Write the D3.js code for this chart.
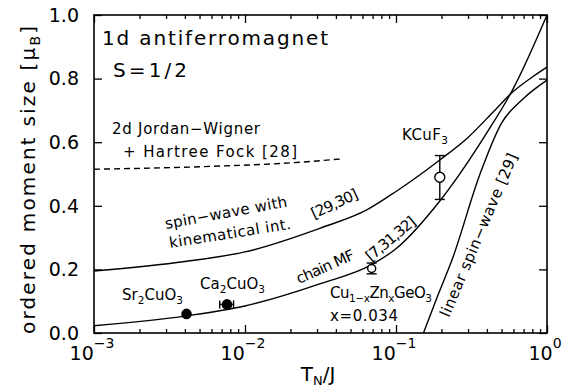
<!DOCTYPE html>
<html>
<head>
<meta charset="utf-8">
<script src="https://cdn.jsdelivr.net/npm/d3@7"></script>
<style>
  body { margin: 0; background: #fff; }
  svg { font-family: "DejaVu Sans", sans-serif; }
</style>
</head>
<body>
<div id="chart"></div>
<script>
// ordered moment vs T_N/J for a 1d S=1/2 antiferromagnet

// curves: [T_N/J, moment]
const spinWaveKin = [
  [0.001, 0.195], [0.004, 0.225], [0.01, 0.255], [0.0316, 0.33],
  [0.064, 0.387], [0.1, 0.445], [0.195, 0.544], [0.3, 0.615],
  [0.45, 0.7], [0.6, 0.76], [0.8, 0.805], [1.0, 0.836]
];
const chainMF = [
  [0.001, 0.023], [0.0041, 0.054], [0.01, 0.085], [0.0316, 0.155],
  [0.069, 0.215], [0.1, 0.265], [0.195, 0.415], [0.4, 0.63],
  [0.6, 0.77], [1.0, 1.0]
];
const linearSW = [
  [0.152, 0.0], [0.19, 0.12], [0.235, 0.23], [0.36, 0.5],
  [0.5, 0.66], [0.69, 0.735], [1.0, 0.795]
];
const jordanWigner = [
  [0.001, 0.515], [0.006, 0.524], [0.02, 0.535], [0.045, 0.548]
];

// measured points
const filledPts = [
  { name: "Sr2CuO3", x: 0.0041, y: 0.06 },
  { name: "Ca2CuO3", x: 0.0076, y: 0.09, xlo: 0.0068, xhi: 0.0084 }
];
const openPts = [
  { name: "CuZnGeO3", x: 0.069, y: 0.203, ylo: 0.186, yhi: 0.22, r: 4 },
  { name: "KCuF3", x: 0.195, y: 0.49, ylo: 0.42, yhi: 0.558, r: 5 }
];

const xMajor = [1e-3, 1e-2, 1e-1, 1];
const xMajorExp = ["\u22123", "\u22122", "\u22121", "0"];
const yMajor = [0, 0.2, 0.4, 0.6, 0.8, 1.0];

const width = 570, height = 388;
const mLeft = 94, mRight = 547, mTop = 15, mBottom = 333;

const x = d3.scaleLog().domain([1e-3, 1]).range([mLeft, mRight]);
const y = d3.scaleLinear().domain([0, 1]).range([mBottom, mTop]);

const svg = d3.select("#chart").append("svg")
  .attr("width", width).attr("height", height);

// axes with inward ticks
const minor = x.ticks().filter((v) => !xMajor.some((m) => Math.abs(m - v) / m < 1e-6));
const axisStyle = (g) => {
  g.select(".domain").remove();
  g.selectAll("line").attr("stroke", "#000").attr("stroke-width", 1.3);
  g.selectAll("text").remove();
};
svg.append("g").attr("transform", `translate(0,${mBottom})`)
  .call(d3.axisBottom(x).tickValues(xMajor).tickSize(-8)).call(axisStyle);
svg.append("g").attr("transform", `translate(0,${mBottom})`)
  .call(d3.axisBottom(x).tickValues(minor).tickSize(-4)).call(axisStyle);
svg.append("g").attr("transform", `translate(0,${mTop})`)
  .call(d3.axisTop(x).tickValues(xMajor).tickSize(-8)).call(axisStyle);
svg.append("g").attr("transform", `translate(0,${mTop})`)
  .call(d3.axisTop(x).tickValues(minor).tickSize(-4)).call(axisStyle);
svg.append("g").attr("transform", `translate(${mLeft},0)`)
  .call(d3.axisLeft(y).tickValues(yMajor).tickSize(-8)).call(axisStyle);
svg.append("g").attr("transform", `translate(${mRight},0)`)
  .call(d3.axisRight(y).tickValues(yMajor).tickSize(-8)).call(axisStyle);

svg.append("rect")
  .attr("x", mLeft).attr("y", mTop)
  .attr("width", mRight - mLeft).attr("height", mBottom - mTop)
  .attr("fill", "none").attr("stroke", "#000").attr("stroke-width", 1.6);

// tick labels
svg.append("g").selectAll("text").data(yMajor).enter().append("text")
  .attr("x", 79).attr("y", (d) => y(d)).attr("dy", "0.36em")
  .attr("text-anchor", "end").attr("font-size", 19)
  .text((d) => d.toFixed(1));

const xl = svg.append("g").selectAll("text").data(xMajor).enter().append("text")
  .attr("x", (d) => x(d) - 2).attr("y", 360)
  .attr("text-anchor", "middle").attr("font-size", 19);
xl.append("tspan").text("10");
xl.append("tspan").attr("dy", -12).attr("font-size", 14)
  .text((d, i) => xMajorExp[i]);

// axis titles
const xt = svg.append("text").attr("x", 318).attr("y", 381)
  .attr("text-anchor", "middle").attr("font-size", 20);
xt.append("tspan").text("T");
xt.append("tspan").attr("dy", 4).attr("font-size", 13).text("N");
xt.append("tspan").attr("dy", -4).text("/J");

const yt = svg.append("text")
  .attr("transform", "translate(35,180) rotate(-90)")
  .attr("text-anchor", "middle").attr("font-size", 20)
  .attr("textLength", 308).attr("lengthAdjust", "spacing");
yt.append("tspan").text("ordered moment size [\u03bc");
yt.append("tspan").attr("dy", 5).attr("font-size", 14).text("B");
yt.append("tspan").attr("dy", -5).text("]");

// curves
const line = d3.line()
  .x((d) => x(d[0])).y((d) => y(d[1]))
  .curve(d3.curveMonotoneX);
const curves = svg.append("g").attr("fill", "none").attr("stroke", "#000")
  .attr("stroke-width", 1.4);
[spinWaveKin, chainMF, linearSW].forEach((c) => {
  curves.append("path").attr("d", line(c));
});
curves.append("path").attr("d", line(jordanWigner))
  .attr("stroke-dasharray", "6,4");

// error bars and markers
const marks = svg.append("g").attr("stroke", "#000").attr("stroke-width", 1.4);
filledPts.filter((p) => p.xlo).forEach((p) => {
  marks.append("line").attr("x1", x(p.xlo)).attr("x2", x(p.xhi))
    .attr("y1", y(p.y)).attr("y2", y(p.y));
  [p.xlo, p.xhi].forEach((v) => {
    marks.append("line").attr("x1", x(v)).attr("x2", x(v))
      .attr("y1", y(p.y) - 4).attr("y2", y(p.y) + 4);
  });
});
openPts.forEach((p) => {
  marks.append("line").attr("x1", x(p.x)).attr("x2", x(p.x))
    .attr("y1", y(p.ylo)).attr("y2", y(p.yhi));
  [p.ylo, p.yhi].forEach((v) => {
    marks.append("line").attr("x1", x(p.x) - 5).attr("x2", x(p.x) + 5)
      .attr("y1", y(v)).attr("y2", y(v));
  });
});
marks.selectAll("circle.f").data(filledPts).enter().append("circle")
  .attr("cx", (d) => x(d.x)).attr("cy", (d) => y(d.y)).attr("r", 4.6)
  .attr("fill", "#000");
marks.selectAll("circle.o").data(openPts).enter().append("circle")
  .attr("cx", (d) => x(d.x)).attr("cy", (d) => y(d.y)).attr("r", (d) => d.r)
  .attr("fill", "#fff");

// labels: parts are [text, isSubscript]
function chemLabel(parts, px, py, size, len, rot) {
  const t = svg.append("text")
    .attr("transform", `translate(${px},${py}) rotate(${rot || 0})`)
    .attr("font-size", size);
  if (len) t.attr("textLength", len).attr("lengthAdjust", "spacing");
  let low = false;
  parts.forEach(([s, sub]) => {
    const ts = t.append("tspan").text(s);
    if (sub) ts.attr("font-size", size * 0.7);
    if (sub && !low) { ts.attr("dy", 4); low = true; }
    else if (!sub && low) { ts.attr("dy", -4); low = false; }
  });
  return t;
}

chemLabel([["1d antiferromagnet"]], 102, 45, 20, 226);
chemLabel([["S=1/2"]], 113, 77, 20, 74);
chemLabel([["2d Jordan\u2212Wigner"]], 112, 134, 15, 148);
chemLabel([["+ Hartree Fock [28]"]], 123, 157, 15, 174);
chemLabel([["spin\u2212wave with"]], 166, 229, 15, 124, -10.5);
chemLabel([["kinematical int."]], 170, 248, 15, 123, -9);
chemLabel([["[29,30]"]], 314, 219, 15, 50, -25);
chemLabel([["chain MF"]], 299, 284, 15, 62, -24);
chemLabel([["[7,31,32]"]], 371, 262, 15, 60, -40);
chemLabel([["linear spin\u2212wave [29]"]], 449, 318, 15, 176, -67);
chemLabel([["KCuF"], ["3", true]], 402, 140, 15, 46);
chemLabel([["Sr"], ["2", true], ["CuO"], ["3", true]], 122, 300, 15, 61);
chemLabel([["Ca"], ["2", true], ["CuO"], ["3", true]], 200, 289, 15, 65);
chemLabel([["Cu"], ["1\u2212x", true], ["Zn"], ["x", true], ["GeO"], ["3", true]], 330, 298, 15, 102);
chemLabel([["x=0.034"]], 330, 321, 15, 68);
</script>
</body>
</html>
